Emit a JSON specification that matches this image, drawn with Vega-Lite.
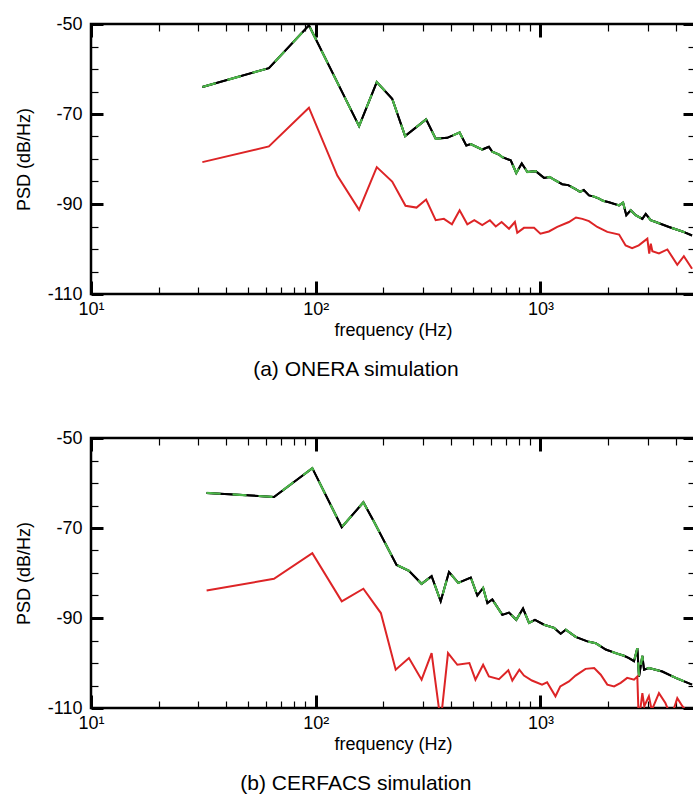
{
  "$schema": "https://vega.github.io/schema/vega-lite/v6.json",
  "background": "white",
  "padding": {"left": 14, "top": 13, "right": 0, "bottom": 0},
  "spacing": 45,
  "config": {
    "font": "Liberation Sans",
    "view": {"stroke": "black", "strokeWidth": 2.5},
    "axis": {"domain": false, "grid": false, "labelFont": "Liberation Sans", "titleFont": "Liberation Sans", "labelColor": "black", "titleColor": "black", "labelFontSize": 18, "titleFontSize": 18, "titleFontWeight": "normal", "tickColor": "black"},
    "title": {"font": "Liberation Sans", "fontWeight": "normal", "fontSize": 21, "color": "black"}
  },
  "datasets": {
    "topK": [
      {"f": 31.3, "v": -64.0}, {"f": 61.9, "v": -59.8}, {"f": 93.3, "v": -50.3}, {"f": 156, "v": -72.7},
      {"f": 187, "v": -62.9}, {"f": 219, "v": -66.6}, {"f": 250, "v": -74.9}, {"f": 310, "v": -71.2},
      {"f": 342, "v": -75.5}, {"f": 385, "v": -75.3}, {"f": 437, "v": -74.1}, {"f": 468, "v": -77.0},
      {"f": 490, "v": -76.7}, {"f": 551, "v": -77.9}, {"f": 590, "v": -77.3}, {"f": 611, "v": -78.4},
      {"f": 654, "v": -79.0}, {"f": 677, "v": -79.6}, {"f": 738, "v": -80.3}, {"f": 781, "v": -83.1},
      {"f": 826, "v": -81.0}, {"f": 875, "v": -82.9}, {"f": 953, "v": -82.7}, {"f": 1038, "v": -84.2},
      {"f": 1100, "v": -84.0}, {"f": 1151, "v": -84.6}, {"f": 1250, "v": -85.6}, {"f": 1330, "v": -85.8},
      {"f": 1435, "v": -86.7}, {"f": 1500, "v": -87.3}, {"f": 1560, "v": -86.9}, {"f": 1645, "v": -88.1},
      {"f": 1720, "v": -88.3}, {"f": 1823, "v": -88.8}, {"f": 1900, "v": -89.3}, {"f": 2020, "v": -89.6},
      {"f": 2239, "v": -90.3}, {"f": 2333, "v": -89.7}, {"f": 2412, "v": -92.5}, {"f": 2523, "v": -91.4},
      {"f": 2655, "v": -92.5}, {"f": 2843, "v": -93.3}, {"f": 2943, "v": -92.2}, {"f": 3097, "v": -93.6},
      {"f": 3261, "v": -94.0}, {"f": 3736, "v": -95.1}, {"f": 4285, "v": -96.1}, {"f": 4731, "v": -97.0}
    ],
    "topR": [
      {"f": 31.3, "v": -80.7}, {"f": 61.9, "v": -77.2}, {"f": 93.3, "v": -68.6}, {"f": 124.8, "v": -83.7},
      {"f": 156, "v": -91.3}, {"f": 187, "v": -81.8}, {"f": 219, "v": -85.0}, {"f": 251, "v": -90.4},
      {"f": 281, "v": -90.8}, {"f": 310, "v": -89.0}, {"f": 342, "v": -93.6}, {"f": 372, "v": -93.3},
      {"f": 404, "v": -94.5}, {"f": 437, "v": -91.4}, {"f": 473, "v": -94.5}, {"f": 508, "v": -93.6},
      {"f": 551, "v": -94.7}, {"f": 596, "v": -93.6}, {"f": 633, "v": -95.0}, {"f": 672, "v": -94.0},
      {"f": 725, "v": -95.5}, {"f": 770, "v": -94.0}, {"f": 789, "v": -96.4}, {"f": 845, "v": -95.3},
      {"f": 937, "v": -95.3}, {"f": 1000, "v": -96.6}, {"f": 1091, "v": -96.1}, {"f": 1189, "v": -95.1},
      {"f": 1340, "v": -94.0}, {"f": 1440, "v": -93.0}, {"f": 1537, "v": -93.3}, {"f": 1645, "v": -93.8},
      {"f": 1791, "v": -95.1}, {"f": 1985, "v": -96.2}, {"f": 2240, "v": -96.8}, {"f": 2395, "v": -99.2},
      {"f": 2560, "v": -99.8}, {"f": 2740, "v": -99.2}, {"f": 2992, "v": -97.7}, {"f": 3050, "v": -101.0},
      {"f": 3100, "v": -98.8}, {"f": 3150, "v": -100.5}, {"f": 3370, "v": -101.0}, {"f": 3674, "v": -100.1},
      {"f": 4067, "v": -103.5}, {"f": 4350, "v": -101.6}, {"f": 4731, "v": -104.4}
    ],
    "botK": [
      {"f": 32.7, "v": -62.2}, {"f": 65.2, "v": -63.1}, {"f": 96.6, "v": -56.7}, {"f": 130.6, "v": -69.8},
      {"f": 163, "v": -64.3}, {"f": 180, "v": -68.2}, {"f": 229, "v": -78.2}, {"f": 260, "v": -79.5},
      {"f": 296, "v": -82.4}, {"f": 328, "v": -80.7}, {"f": 360, "v": -86.3}, {"f": 392, "v": -79.8},
      {"f": 431, "v": -82.2}, {"f": 490, "v": -81.0}, {"f": 524, "v": -85.0}, {"f": 556, "v": -83.3},
      {"f": 581, "v": -86.7}, {"f": 611, "v": -85.9}, {"f": 677, "v": -89.3}, {"f": 725, "v": -88.8},
      {"f": 781, "v": -90.4}, {"f": 837, "v": -87.9}, {"f": 890, "v": -91.1}, {"f": 946, "v": -90.4},
      {"f": 1038, "v": -91.5}, {"f": 1151, "v": -92.2}, {"f": 1231, "v": -93.5}, {"f": 1297, "v": -92.6},
      {"f": 1435, "v": -94.2}, {"f": 1618, "v": -95.2}, {"f": 1763, "v": -95.6}, {"f": 1954, "v": -97.0},
      {"f": 2163, "v": -97.8}, {"f": 2355, "v": -98.4}, {"f": 2479, "v": -98.9}, {"f": 2610, "v": -99.6},
      {"f": 2700, "v": -96.7}, {"f": 2747, "v": -103.0}, {"f": 2843, "v": -98.4}, {"f": 2893, "v": -101.5},
      {"f": 3042, "v": -101.1}, {"f": 3488, "v": -101.9}, {"f": 4000, "v": -103.3}, {"f": 4731, "v": -104.8}
    ],
    "botR": [
      {"f": 32.7, "v": -83.9}, {"f": 65.2, "v": -81.3}, {"f": 96.6, "v": -75.6}, {"f": 130.6, "v": -86.3},
      {"f": 163, "v": -83.5}, {"f": 195, "v": -88.9}, {"f": 227, "v": -101.5}, {"f": 260, "v": -98.9},
      {"f": 296, "v": -103.7}, {"f": 328, "v": -97.8}, {"f": 360, "v": -113}, {"f": 388, "v": -97.8},
      {"f": 427, "v": -100.4}, {"f": 483, "v": -100.0}, {"f": 514, "v": -103.7}, {"f": 556, "v": -100.4},
      {"f": 590, "v": -103.0}, {"f": 654, "v": -103.6}, {"f": 720, "v": -101.6}, {"f": 750, "v": -103.9},
      {"f": 806, "v": -101.5}, {"f": 845, "v": -102.8}, {"f": 917, "v": -103.9}, {"f": 1017, "v": -104.8},
      {"f": 1071, "v": -104.3}, {"f": 1167, "v": -107.4}, {"f": 1226, "v": -105.2}, {"f": 1340, "v": -104.1},
      {"f": 1434, "v": -102.8}, {"f": 1588, "v": -101.3}, {"f": 1735, "v": -101.1}, {"f": 1856, "v": -102.6},
      {"f": 1985, "v": -104.8}, {"f": 2128, "v": -105.2}, {"f": 2277, "v": -104.4}, {"f": 2434, "v": -103.3},
      {"f": 2610, "v": -103.7}, {"f": 2700, "v": -103.0}, {"f": 2740, "v": -113}, {"f": 2843, "v": -106.7},
      {"f": 2900, "v": -109.6}, {"f": 3040, "v": -107.4}, {"f": 3130, "v": -110.5}, {"f": 3370, "v": -106.7},
      {"f": 3600, "v": -108.9}, {"f": 3820, "v": -112}, {"f": 4067, "v": -107.8}, {"f": 4285, "v": -109.6},
      {"f": 4731, "v": -112}
    ]
  },
  "vconcat": [
    {
      "width": 604,
      "height": 270,
      "title": {"text": "(a) ONERA simulation", "orient": "bottom", "anchor": "middle", "frame": "bounds", "offset": 20},
      "resolve": {"axis": {"x": "independent", "y": "independent"}},
      "layer": [
        {
          "data": {"name": "topK"},
          "mark": {"type": "line", "color": "black", "strokeWidth": 2, "clip": true},
          "encoding": {
            "x": {"field": "f", "type": "quantitative", "scale": {"type": "log", "domain": [10, 4876], "nice": false},
              "axis": {"orient": "bottom", "values": [10, 100, 1000], "offset": -13, "tickSize": 13, "tickWidth": 3,
                "labelExpr": "datum.value == 10 ? '10¹' : datum.value == 100 ? '10²' : '10³'",
                "labelOverlap": false, "labelFlush": false, "labelBound": false, "labelPadding": 6,
                "title": "frequency (Hz)", "titlePadding": 3}},
            "y": {"field": "v", "type": "quantitative", "scale": {"domain": [-110, -50], "nice": false, "zero": false},
              "axis": {"orient": "left", "values": [-110, -90, -70, -50], "offset": -12, "tickSize": 12, "tickWidth": 3,
                "labelExpr": "'' + datum.value", "labelPadding": 9,
                "title": "PSD (dB/Hz)", "titlePadding": 14}}
          }
        },
        {
          "data": {"name": "topK"},
          "mark": {"type": "line", "color": "black", "strokeWidth": 2, "clip": true},
          "encoding": {
            "x": {"field": "f", "type": "quantitative",
              "axis": {"orient": "top", "values": [20, 30, 40, 50, 60, 70, 80, 90, 200, 300, 400, 500, 600, 700, 800, 900, 2000, 3000, 4000],
                "offset": -7, "tickSize": 7, "tickWidth": 1.2, "labels": false, "title": null}},
            "y": {"field": "v", "type": "quantitative",
              "axis": {"orient": "right", "values": [-105, -100, -95, -85, -80, -75, -65, -60, -55],
                "offset": -7, "tickSize": 7, "tickWidth": 1.2, "labels": false, "title": null}}
          }
        },
        {
          "data": {"name": "topK"},
          "mark": {"type": "line", "color": "#4cb649", "strokeWidth": 2.2, "strokeDash": [14, 12], "clip": true},
          "encoding": {
            "x": {"field": "f", "type": "quantitative",
              "axis": {"orient": "top", "values": [10, 100, 1000], "offset": -13, "tickSize": 13, "tickWidth": 3, "labels": false, "title": null}},
            "y": {"field": "v", "type": "quantitative",
              "axis": {"orient": "right", "values": [-110, -90, -70, -50], "offset": -12, "tickSize": 12, "tickWidth": 3, "labels": false, "title": null}}
          }
        },
        {
          "data": {"name": "topR"},
          "mark": {"type": "line", "color": "#dd2426", "strokeWidth": 2, "clip": true},
          "encoding": {
            "x": {"field": "f", "type": "quantitative",
              "axis": {"orient": "bottom", "values": [20, 30, 40, 50, 60, 70, 80, 90, 200, 300, 400, 500, 600, 700, 800, 900, 2000, 3000, 4000],
                "offset": -7, "tickSize": 7, "tickWidth": 1.2, "labels": false, "title": null}},
            "y": {"field": "v", "type": "quantitative",
              "axis": {"orient": "left", "values": [-105, -100, -95, -85, -80, -75, -65, -60, -55],
                "offset": -7, "tickSize": 7, "tickWidth": 1.2, "labels": false, "title": null}}
          }
        }
      ]
    },
    {
      "width": 604,
      "height": 270,
      "title": {"text": "(b) CERFACS simulation", "orient": "bottom", "anchor": "middle", "frame": "bounds", "offset": 20},
      "resolve": {"axis": {"x": "independent", "y": "independent"}},
      "layer": [
        {
          "data": {"name": "botK"},
          "mark": {"type": "line", "color": "black", "strokeWidth": 2, "clip": true},
          "encoding": {
            "x": {"field": "f", "type": "quantitative", "scale": {"type": "log", "domain": [10, 4876], "nice": false},
              "axis": {"orient": "bottom", "values": [10, 100, 1000], "offset": -13, "tickSize": 13, "tickWidth": 3,
                "labelExpr": "datum.value == 10 ? '10¹' : datum.value == 100 ? '10²' : '10³'",
                "labelOverlap": false, "labelFlush": false, "labelBound": false, "labelPadding": 6,
                "title": "frequency (Hz)", "titlePadding": 3}},
            "y": {"field": "v", "type": "quantitative", "scale": {"domain": [-110, -50], "nice": false, "zero": false},
              "axis": {"orient": "left", "values": [-110, -90, -70, -50], "offset": -12, "tickSize": 12, "tickWidth": 3,
                "labelExpr": "'' + datum.value", "labelPadding": 9,
                "title": "PSD (dB/Hz)", "titlePadding": 14}}
          }
        },
        {
          "data": {"name": "botK"},
          "mark": {"type": "line", "color": "black", "strokeWidth": 2, "clip": true},
          "encoding": {
            "x": {"field": "f", "type": "quantitative",
              "axis": {"orient": "top", "values": [20, 30, 40, 50, 60, 70, 80, 90, 200, 300, 400, 500, 600, 700, 800, 900, 2000, 3000, 4000],
                "offset": -7, "tickSize": 7, "tickWidth": 1.2, "labels": false, "title": null}},
            "y": {"field": "v", "type": "quantitative",
              "axis": {"orient": "right", "values": [-105, -100, -95, -85, -80, -75, -65, -60, -55],
                "offset": -7, "tickSize": 7, "tickWidth": 1.2, "labels": false, "title": null}}
          }
        },
        {
          "data": {"name": "botK"},
          "mark": {"type": "line", "color": "#4cb649", "strokeWidth": 2.2, "strokeDash": [14, 12], "clip": true},
          "encoding": {
            "x": {"field": "f", "type": "quantitative",
              "axis": {"orient": "top", "values": [10, 100, 1000], "offset": -13, "tickSize": 13, "tickWidth": 3, "labels": false, "title": null}},
            "y": {"field": "v", "type": "quantitative",
              "axis": {"orient": "right", "values": [-110, -90, -70, -50], "offset": -12, "tickSize": 12, "tickWidth": 3, "labels": false, "title": null}}
          }
        },
        {
          "data": {"name": "botR"},
          "mark": {"type": "line", "color": "#dd2426", "strokeWidth": 2, "clip": true},
          "encoding": {
            "x": {"field": "f", "type": "quantitative",
              "axis": {"orient": "bottom", "values": [20, 30, 40, 50, 60, 70, 80, 90, 200, 300, 400, 500, 600, 700, 800, 900, 2000, 3000, 4000],
                "offset": -7, "tickSize": 7, "tickWidth": 1.2, "labels": false, "title": null}},
            "y": {"field": "v", "type": "quantitative",
              "axis": {"orient": "left", "values": [-105, -100, -95, -85, -80, -75, -65, -60, -55],
                "offset": -7, "tickSize": 7, "tickWidth": 1.2, "labels": false, "title": null}}
          }
        }
      ]
    }
  ]
}
